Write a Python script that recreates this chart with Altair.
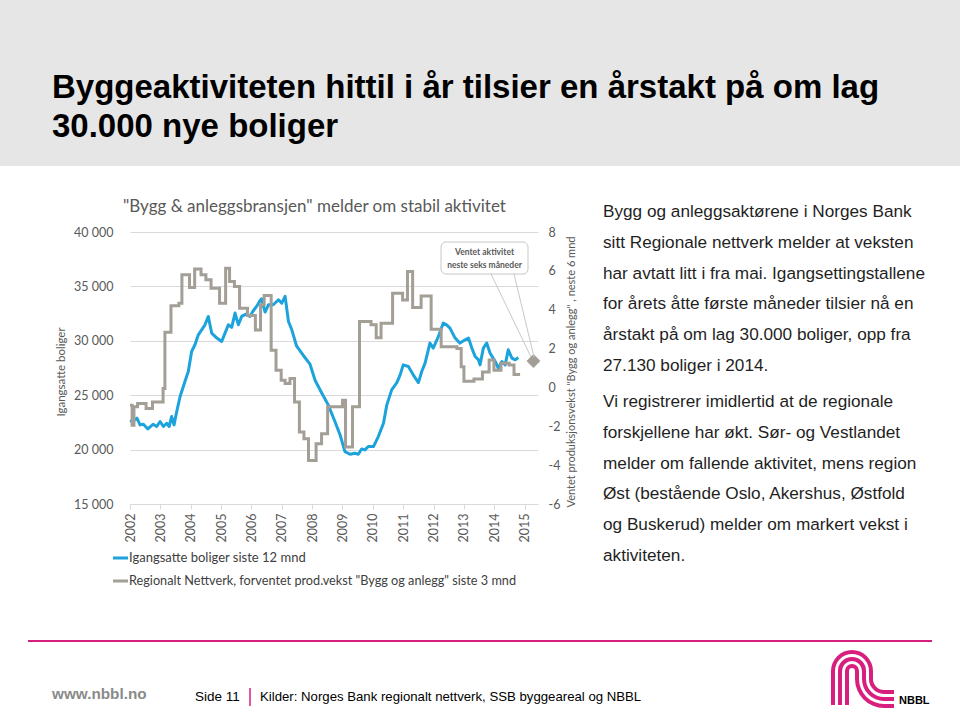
import math
import altair as alt
import pandas as pd

# ---------------- data ----------------
blue_t = [2002.00, 2002.16, 2002.23, 2002.33, 2002.44, 2002.59, 2002.76, 2002.88, 2002.99,
          2003.10, 2003.21, 2003.29, 2003.37, 2003.45, 2003.54, 2003.65, 2003.81, 2003.92,
          2004.03, 2004.14, 2004.25, 2004.36, 2004.47, 2004.58, 2004.69, 2004.86,
          2005.02, 2005.13, 2005.24, 2005.35, 2005.46, 2005.57, 2005.68, 2005.82, 2005.95,
          2006.06, 2006.17, 2006.28, 2006.33, 2006.45, 2006.56, 2006.72, 2006.89,
          2007.00, 2007.11, 2007.22, 2007.33, 2007.49, 2007.71, 2007.93,
          2008.10, 2008.32, 2008.53, 2008.75, 2008.92,
          2009.08, 2009.25, 2009.41, 2009.52, 2009.63, 2009.74, 2009.85,
          2010.02, 2010.18, 2010.35, 2010.46, 2010.62, 2010.79, 2010.90,
          2011.00, 2011.17, 2011.33, 2011.50, 2011.61, 2011.72, 2011.88, 2011.99,
          2012.16, 2012.32, 2012.43, 2012.54, 2012.71, 2012.87,
          2013.04, 2013.15, 2013.26, 2013.37, 2013.48, 2013.53, 2013.64, 2013.75, 2013.86,
          2014.03, 2014.13, 2014.25, 2014.36, 2014.46, 2014.58, 2014.69, 2014.79]
blue_v = [22580, 22730, 22890, 22270, 22330, 21900, 22330, 22120, 22580,
          22120, 22420, 22120, 23040, 22270, 23500, 24880, 26260, 27180,
          29020, 29640, 30550, 31010, 31470, 32240, 30710, 30250,
          29940, 30710, 31470, 31230, 32550, 31470, 32240, 32450, 32240,
          32760, 33160, 33680, 33860, 32640, 33310, 33310, 33770,
          33460, 34080, 31780, 31010, 29500, 28650, 27850,
          26350, 25180, 24110, 22580, 21350,
          19820, 19570, 19660, 19570, 20060, 19970, 20280,
          20280, 21200, 22420, 24110, 25490, 26160, 26870,
          27790, 27640, 26870, 26160, 27180, 27950, 29790, 29330,
          30400, 31630, 31470, 31170, 30250, 29790,
          30090, 30250, 29330, 28560, 28250, 27790, 29330, 29790, 28870,
          28100, 27490, 28100, 27790, 29170, 28410, 28250, 28460]

gray_t = [2002.00, 2002.07, 2002.13, 2002.25, 2002.53, 2002.74, 2003.09, 2003.15, 2003.35,
          2003.61, 2003.71, 2003.96, 2004.13, 2004.34, 2004.50, 2004.67, 2004.95, 2005.15,
          2005.28, 2005.44, 2005.61, 2005.87, 2006.13, 2006.30, 2006.42, 2006.65, 2006.81,
          2006.98, 2007.11, 2007.27, 2007.42, 2007.58, 2007.73, 2007.88, 2008.13, 2008.31,
          2008.51, 2009.00, 2009.10, 2009.33, 2009.56, 2009.94, 2010.11, 2010.27, 2010.65,
          2010.98, 2011.14, 2011.31, 2011.59, 2011.92, 2012.25, 2012.77, 2012.91, 2013.00,
          2013.33, 2013.61, 2013.83, 2013.99, 2014.22, 2014.49, 2014.65, 2014.85]
gray_v = [-0.92, -1.95, -1.0, -0.83, -1.09, -0.75, -0.05, 2.84, 4.2,
          4.33, 5.8, 5.14, 6.1, 5.8, 5.54, 5.11, 4.33, 6.14,
          5.45, 5.2, 4.08, 3.7, 2.96, 4.25, 4.73, 1.92, 0.89,
          0.37, 0.2, 0.46, -0.75, -2.29, -2.64, -3.76, -2.9, -2.38,
          -1.0, -0.66, -3.07, -1.0, 3.39, 3.22, 2.56, 3.3, 4.85,
          4.5, 5.97, 4.11, 4.71, 3.0, 2.09, 2.0, 1.06, 0.32,
          0.43, 0.80, 1.41, 0.89, 1.24, 1.15, 0.67, 0.67]

forecast_t = [2015.29]
forecast_v = [1.36]

year_ticks = list(range(2002, 2016))
left_ticks = [15000, 20000, 25000, 30000, 35000, 40000]
right_ticks = [-6, -4, -2, 0, 2, 4, 6, 8]

title_lines = ["Byggeaktiviteten hittil i år tilsier en årstakt på om lag", "30.000 nye boliger"]
chart_title = '"Bygg & anleggsbransjen" melder om stabil aktivitet'
left_title = "Igangsatte boliger"
right_title = 'Ventet produksjonsvekst "Bygg og anlegg" , neste 6 mnd'
legend_labels = ["Igangsatte boliger siste 12 mnd",
                 'Regionalt Nettverk, forventet prod.vekst "Bygg og anlegg" siste 3 mnd']
callout_lines = ["Ventet aktivitet", "neste seks måneder"]
para1 = ["Bygg og anleggsaktørene i Norges Bank",
         "sitt Regionale nettverk melder at veksten",
         "har avtatt litt i fra mai. Igangsettingstallene",
         "for årets åtte første måneder tilsier nå en",
         "årstakt på om lag 30.000 boliger, opp fra",
         "27.130 boliger i 2014."]
para2 = ["Vi registrerer imidlertid at de regionale",
         "forskjellene har økt. Sør- og Vestlandet",
         "melder om fallende aktivitet, mens region",
         "Øst (bestående Oslo, Akershus, Østfold",
         "og Buskerud) melder om markert vekst i",
         "aktiviteten."]
footer_url = "www.nbbl.no"
footer_page = "Side 11"
footer_source = "Kilder: Norges Bank regionalt nettverk, SSB byggeareal og NBBL"
logo_text = "NBBL"

# ---------------- styling ----------------
BLUE = "#1ca3dc"
GRAY = "#a39e96"
PINK = "#d81f7d"
TXT = "#595959"
GRID = "#d9d9d9"
LATO = "Lato"
ARIAL = "Liberation Sans"

OX, OY = 130, 232           # plot-area origin on the page
W, H = 408, 272             # plot-area size


def px(x):
    return x - OX


def py(y):
    return y - OY


one = pd.DataFrame({"k": [0]})


def rect(x1, y1, x2, y2, **kw):
    return alt.Chart(one).mark_rect(**kw).encode(
        x=alt.value(px(x1)), x2=alt.value(px(x2)), y=alt.value(py(y1)), y2=alt.value(py(y2)))


def text(x, y, t, **kw):
    return alt.Chart(one).mark_text(text=t, **kw).encode(x=alt.value(px(x)), y=alt.value(py(y)))


def rule(x1, y1, x2, y2, **kw):
    return alt.Chart(one).mark_rule(**kw).encode(
        x=alt.value(px(x1)), x2=alt.value(px(x2)), y=alt.value(py(y1)), y2=alt.value(py(y2)))


def arc(cx, cy, r1, r2, th1, th2, **kw):
    return alt.Chart(one).mark_arc(radius=r2, radius2=r1, theta=th1, theta2=th2, **kw).encode(
        x=alt.value(px(cx)), y=alt.value(py(cy)))


# ---------------- chart ----------------
blue_df = pd.DataFrame({"t": blue_t, "v": blue_v})
gray_df = pd.DataFrame({"t": gray_t, "g": gray_v})
fc_df = pd.DataFrame({"t": forecast_t, "g": forecast_v})

x_scale = alt.Scale(domain=[2002, 2015.44], nice=False, zero=False)
x_axis = alt.Axis(values=year_ticks, format="d", labelAngle=-90, labelFont=LATO, labelFontSize=12.5,
                  labelColor=TXT, labelPadding=4, labelFlush=False, labelOverlap=False,
                  tickColor=GRID, tickSize=5, domainColor=GRID, grid=False, title=None)
x_enc = alt.X("t:Q", scale=x_scale, axis=x_axis)

left_axis = alt.Axis(values=left_ticks, labelExpr="replace(format(datum.value, ',d'), ',', ' ')",
                     grid=True, gridColor=GRID, domain=False, ticks=False, labelPadding=17,
                     labelFont=LATO, labelFontSize=12.5, labelColor=TXT, title=None, orient="left",
                     labelFlush=False, labelOverlap=False)
right_scale = alt.Scale(domain=[-6, 8], nice=False, zero=False)
right_axis = alt.Axis(values=right_ticks, grid=False, domain=False, ticks=False, labelPadding=10,
                      labelExpr="datum.value < 0 ? '-' + abs(datum.value) : '' + datum.value",
                      labelFont=LATO, labelFontSize=12.5, labelColor=TXT, title=None, orient="right",
                      labelFlush=False, labelOverlap=False)

blue = alt.Chart(blue_df).mark_line(color=BLUE, strokeWidth=3, strokeJoin="round").encode(
    x=x_enc,
    y=alt.Y("v:Q", scale=alt.Scale(domain=[15000, 40000], nice=False, zero=False), axis=left_axis))

gray = alt.Chart(gray_df).mark_line(color=GRAY, strokeWidth=3, interpolate="step-after").encode(
    x=x_enc, y=alt.Y("g:Q", scale=right_scale, axis=right_axis))
diamond = alt.Chart(fc_df).mark_point(shape="diamond", filled=True, size=190, color=GRAY, opacity=1).encode(
    x=x_enc, y=alt.Y("g:Q", scale=right_scale, axis=right_axis))
right_layer = alt.layer(gray, diamond)

HALF = math.pi / 2

layers = [
    # header band
    rect(0, 0, 960, 166, color="#e6e6e6"),
    text(52, 98, title_lines, font=ARIAL, fontSize=33, fontWeight="bold", color="#000000",
         align="left", baseline="alphabetic", lineHeight=39),
    # chart title and axis titles
    text(123, 207, chart_title, font=LATO, fontSize=17, color=TXT, align="left", baseline="middle"),
    text(62, 372, left_title, font=LATO, fontSize=11.5, color=TXT, angle=270, align="center", baseline="middle"),
    text(572, 372, right_title, font=LATO, fontSize=11, color=TXT, angle=270, align="center", baseline="middle"),
    # data
    blue,
    right_layer,
    # callout
    rule(491, 274, 531, 357, color="#c8c8c8", strokeWidth=1),
    rule(514, 274, 534, 357, color="#c8c8c8", strokeWidth=1),
    rect(441, 242, 528, 274, fill="white", stroke="#c8c8c8", strokeWidth=1, cornerRadius=5),
    text(484.5, 255, callout_lines, font=LATO, fontSize=8.5, fontWeight="bold", color=TXT,
         align="center", baseline="alphabetic", lineHeight=13),
    # legend
    rule(113, 558, 128, 558, color=BLUE, strokeWidth=3),
    text(129, 558, legend_labels[0], font=LATO, fontSize=13, color="#404040", align="left", baseline="middle"),
    rule(113, 581, 128, 581, color=GRAY, strokeWidth=3),
    text(129, 581, legend_labels[1], font=LATO, fontSize=12.7, color="#404040", align="left", baseline="middle"),
    # body text
    text(603, 217, para1, font=ARIAL, fontSize=17.2, color="#1f1f1f", align="left",
         baseline="alphabetic", lineHeight=30.8),
    text(603, 407, para2, font=ARIAL, fontSize=17.2, color="#1f1f1f", align="left",
         baseline="alphabetic", lineHeight=30.8),
    # footer
    rule(28, 641, 932, 641, color=PINK, strokeWidth=2),
    text(52, 694, footer_url, font=ARIAL, fontSize=15.3, fontWeight="bold", color="#8a8a8a",
         align="left", baseline="middle"),
    text(195, 697, footer_page, font=ARIAL, fontSize=13.5, color="#000000", align="left", baseline="middle"),
    rule(250, 688, 250, 706, color=PINK, strokeWidth=1.5),
    text(260, 697, footer_source, font=ARIAL, fontSize=13.2, color="#000000", align="left", baseline="middle"),
    # logo
    text(899, 701, logo_text, font=ARIAL, fontSize=11, fontWeight="bold", color="#000000",
         align="left", baseline="middle"),
]

for r1, r2 in [(17, 21), (10, 14), (3, 7)]:
    layers.append(arc(852, 671, r1, r2, 3 * HALF, 5 * HALF, color=PINK))
for x1 in [869, 862, 855]:
    layers.append(rect(x1, 671, x1 + 4, 679.5, color=PINK))
for (r1, r2), ybot in zip([(11, 15), (18, 22), (25, 29)], [690, 697, 704]):
    layers.append(arc(884, 679, r1, r2, 2 * HALF, 3 * HALF, color=PINK))
    layers.append(rect(883.5, ybot, 894, ybot + 4, color=PINK))
for x1 in [831, 838, 845]:
    layers.append(rect(x1, 670.5, x1 + 4, 705, color=PINK))

chart = alt.layer(*layers).resolve_scale(y="independent").properties(
    width=W, height=H,
    padding={"left": OX, "top": OY, "right": 960 - OX - W, "bottom": 711 - OY - H},
    autosize=alt.AutoSizeParams(type="none"),
    background="white",
).configure_view(stroke=None)

chart.save("out.html", embed_options={"renderer": "svg", "actions": False})
